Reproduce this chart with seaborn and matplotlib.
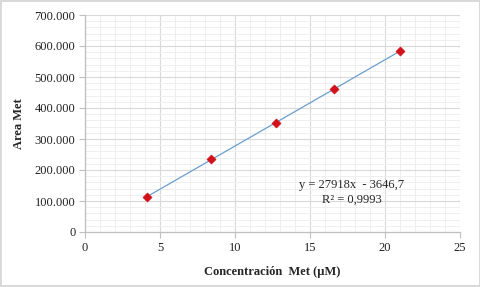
import numpy as np
import pandas as pd
import seaborn as sns
import matplotlib.pyplot as plt
from matplotlib.ticker import MultipleLocator, FuncFormatter

# calibration points
concentracion = [4.1, 8.4, 12.7, 16.6, 21.0]
area = [112000, 234000, 353000, 461000, 583000]
ecuacion = 'y = 27918x  - 3646,7'
r2_texto = 'R² = 0,9993'

df = pd.DataFrame({'conc': concentracion, 'area': area})

sns.set_style('white')
plt.rcParams['font.family'] = ['Liberation Serif', 'DejaVu Serif']

fig = plt.figure(figsize=(4.81, 2.87), dpi=100)
fig.patch.set_edgecolor('#D9D9D9')
fig.patch.set_linewidth(1.5)
ax = fig.add_axes([85 / 481, 55 / 287, 375 / 481, 217 / 287])

# linear trendline over the data range
sns.regplot(data=df, x='conc', y='area', ax=ax, ci=None, scatter=False,
            line_kws={'color': '#6A9FCF', 'lw': 0.9, 'zorder': 3})
sns.scatterplot(data=df, x='conc', y='area', ax=ax, marker='D', s=22,
                color='#D2101A', edgecolor='#D2101A', zorder=4)

ax.set_xlim(0, 25)
ax.set_ylim(0, 700000)
ax.xaxis.set_major_locator(MultipleLocator(5))
ax.xaxis.set_minor_locator(MultipleLocator(1))
ax.yaxis.set_major_locator(MultipleLocator(100000))
ax.yaxis.set_minor_locator(MultipleLocator(20000))
ax.yaxis.set_major_formatter(FuncFormatter(lambda v, p: f'{v:,.0f}'.replace(',', '.')))

ax.grid(which='major', color='#D9D9D9', lw=0.8)
ax.grid(which='minor', color='#EFEFEF', lw=0.7)
ax.set_axisbelow(True)

for s in ['top', 'right']:
    ax.spines[s].set_visible(False)
for s in ['left', 'bottom']:
    ax.spines[s].set_color('#BFBFBF')
    ax.spines[s].set_linewidth(0.9)

ax.tick_params(which='major', length=4, color='#BFBFBF', labelsize=9,
               labelcolor='#222222', left=True, bottom=True, pad=3)
ax.tick_params(which='minor', length=0)

ax.set_xlabel('Concentración  Met (µM)', fontsize=9, fontweight='bold', labelpad=9)
ax.set_ylabel('Area Met', fontsize=9, fontweight='bold', labelpad=7)

ax.text(17.8, 152000, ecuacion, fontsize=9, ha='center', va='center')
ax.text(17.8, 103000, r2_texto, fontsize=9, ha='center', va='center')

fig.savefig('out.png', dpi=100, edgecolor=fig.get_edgecolor())
